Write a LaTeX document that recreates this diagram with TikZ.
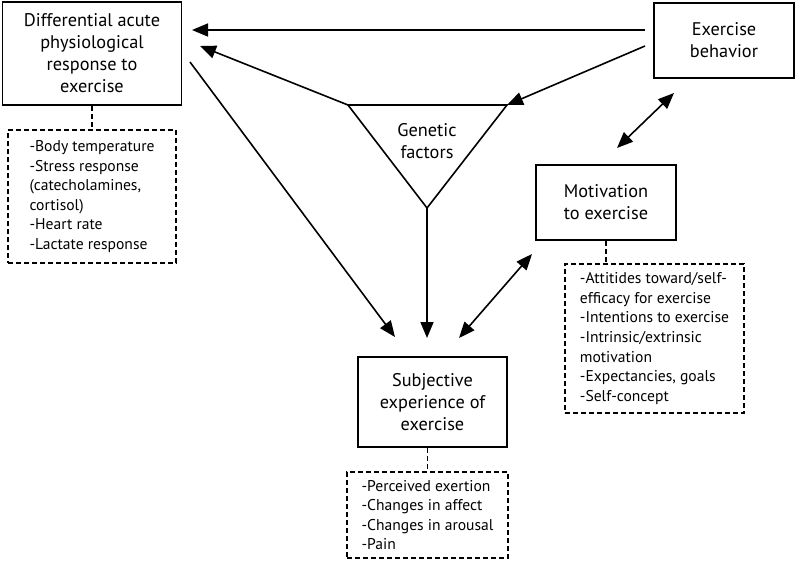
\documentclass[tikz,border=0pt]{standalone}
\usepackage{fontspec}
\setmainfont{PT Sans}
\usetikzlibrary{arrows.meta}
\begin{document}
\begin{tikzpicture}[x=1pt,y=-1pt,
  conn/.style={line width=1.6pt,-{Triangle[length=16pt,width=13pt]}},
  dconn/.style={line width=1.6pt,{Triangle[length=16pt,width=13pt]}-{Triangle[length=16pt,width=13pt]}},
  mainbox/.style={draw,line width=1.6pt,inner sep=0pt,align=center,font=\fontsize{18.3}{22}\selectfont},
  listbox/.style={draw,line width=1.4pt,dash pattern=on 5pt off 3pt,inner sep=0pt,align=left,font=\fontsize{15.6}{19.5}\selectfont},
  dlink/.style={draw,line width=1.4pt,dash pattern=on 5pt off 3pt}]
\useasboundingbox (0,0) rectangle (797,562);
% main boxes
\node[mainbox,minimum width=179pt,minimum height=103pt] (diff) at (92,53.5) {Differential acute\\physiological\\response to\\exercise};
\node[mainbox,minimum width=140pt,minimum height=75pt] (exb) at (724,40.5) {Exercise\\behavior};
\node[mainbox,minimum width=140pt,minimum height=75pt] (mot) at (606,202.5) {Motivation\\to exercise};
\node[mainbox,minimum width=149pt,minimum height=90pt] (subj) at (432.5,402) {Subjective\\experience of\\exercise};
% list boxes
\node[listbox,minimum width=168pt,minimum height=133pt] (diffl) at (92,196.5) {-Body temperature\\-Stress response\\(catecholamines,\\cortisol)\\-Heart rate\\-Lactate response};
\node[listbox,minimum width=179pt,minimum height=149pt] (motl) at (654.5,338.5) {-Attitides toward/self-\\efficacy for exercise\\-Intentions to exercise\\-Intrinsic/extrinsic\\motivation\\-Expectancies, goals\\-Self-concept};
\node[listbox,minimum width=161pt,minimum height=86pt] (subjl) at (427.5,515) {-Perceived exertion\\-Changes in affect\\-Changes in arousal\\-Pain};
% dashed links
\draw[dlink] (diff.south) -- (diffl.north);
\draw[dlink] (mot.south) -- (mot.south |- motl.north);
\draw[dlink] (subjl.north |- subj.south) -- (subjl.north);
% triangle
\coordinate (tl) at (348,105);
\coordinate (tr) at (507,105);
\coordinate (tb) at (427,208);
\draw[line width=1.6pt,line join=miter] (tl) -- (tr) -- (tb) -- cycle;
\node[align=center,inner sep=0pt,font=\fontsize{18.3}{22}\selectfont] (gen) at (427,141) {Genetic\\factors};
% connectors
\coordinate (a1s) at (645,30);
\coordinate (a1e) at (192,30);
\draw[conn] (a1s) -- (a1e);
\coordinate (a2s) at (645,46);
\draw[conn] (a2s) -- (tr);
\coordinate (a3e) at (200,46);
\draw[conn] (tl) -- (a3e);
\coordinate (a4s) at (190,62);
\coordinate (a4e) at (395,337);
\draw[conn] (a4s) -- (a4e);
\coordinate (a5e) at (427,338);
\draw[conn] (tb) -- (a5e);
\coordinate (a6s) at (459,338);
\coordinate (a6e) at (532,254);
\draw[dconn] (a6s) -- (a6e);
\coordinate (a7s) at (617,148);
\coordinate (a7e) at (674,93);
\draw[dconn] (a7s) -- (a7e);
\end{tikzpicture}
\end{document}
